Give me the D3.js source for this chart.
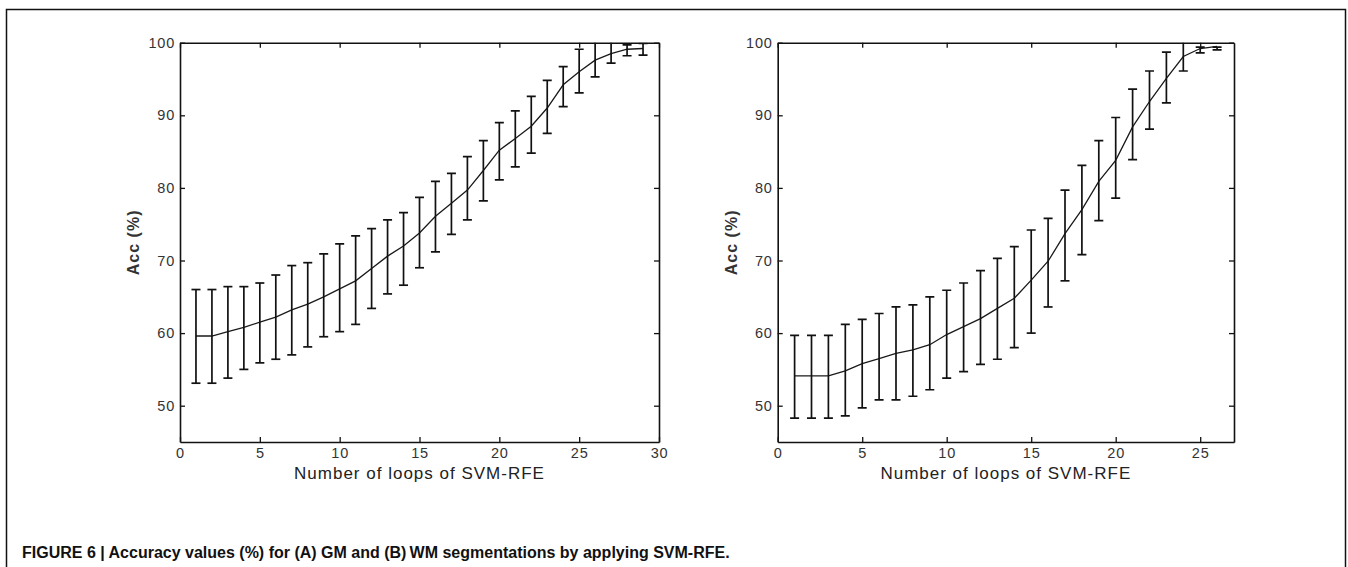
<!DOCTYPE html>
<html>
<head>
<meta charset="utf-8">
<script src="https://cdn.jsdelivr.net/npm/d3@7"></script>
<style>
  body { margin: 0; background: #fff; }
  svg { display: block; }
</style>
</head>
<body>
<div id="chart"></div>
<script>
// (A) GM panel
const loopsA = d3.range(1, 30);
const accA = [59.6, 59.6, 60.2, 60.8, 61.5, 62.2, 63.2, 64.0, 65.0, 66.1,
  67.2, 68.9, 70.6, 72.0, 73.8, 76.1, 77.9, 79.7, 82.4, 85.2,
  86.8, 88.5, 91.0, 94.2, 96.0, 97.6, 98.5, 99.1, 99.2];
const upperA = [66.0, 66.0, 66.4, 66.4, 66.9, 68.0, 69.3, 69.7, 70.9, 72.3,
  73.4, 74.4, 75.6, 76.6, 78.7, 80.9, 82.0, 84.3, 86.5, 89.0,
  90.6, 92.6, 94.8, 96.7, 99.1, 100.4, 100.4, 99.7, 99.9];
const lowerA = [53.1, 53.1, 53.8, 55.0, 55.9, 56.4, 57.0, 58.1, 59.5, 60.2,
  61.2, 63.4, 65.4, 66.6, 69.0, 71.2, 73.6, 75.6, 78.2, 81.1,
  82.9, 84.8, 87.5, 91.2, 93.1, 95.3, 97.2, 98.2, 98.3];

// (B) WM panel
const loopsB = d3.range(1, 27);
const accB = [54.1, 54.1, 54.1, 54.8, 55.8, 56.5, 57.2, 57.7, 58.4, 59.8,
  60.9, 62.0, 63.4, 64.8, 67.3, 69.9, 73.7, 77.0, 80.9, 83.8,
  88.4, 91.9, 95.1, 98.1, 99.2, 99.5];
const upperB = [59.7, 59.7, 59.7, 61.2, 61.9, 62.7, 63.6, 63.9, 65.0, 65.9,
  66.9, 68.6, 70.3, 71.9, 74.2, 75.8, 79.7, 83.1, 86.5, 89.7,
  93.6, 96.1, 98.7, 100.3, 99.4, 99.4];
const lowerB = [48.3, 48.3, 48.3, 48.6, 49.7, 50.8, 50.8, 51.3, 52.2, 53.8,
  54.7, 55.7, 56.4, 58.0, 60.0, 63.6, 67.2, 70.8, 75.5, 78.6,
  83.9, 88.1, 91.7, 96.1, 98.6, 99.0];

const yTicks = [50, 60, 70, 80, 90, 100];
const xTicksA = [0, 5, 10, 15, 20, 25, 30];
const xTicksB = [0, 5, 10, 15, 20, 25];

const xLabel = 'Number of loops of SVM-RFE';
const yLabel = 'Acc (%)';
const caption = 'FIGURE 6 | Accuracy values (%) for (A) GM and (B)\u2009WM segmentations by applying SVM-RFE.';

const width = 1348, height = 567;
const fontFam = '"Liberation Sans", Arial, sans-serif';

let svg = d3.select('#chart')
  .append('svg')
  .attr('width', width)
  .attr('height', height);

// figure frame
svg.append('rect')
  .attr('x', 6.5).attr('y', 9.5)
  .attr('width', 1339).attr('height', 600)
  .attr('fill', 'none')
  .attr('stroke', '#111')
  .attr('stroke-width', 1.5);

svg.append('text')
  .attr('x', 22)
  .attr('y', 558)
  .attr('font-family', fontFam)
  .attr('font-weight', 'bold')
  .attr('font-size', 16)
  .attr('fill', '#111')
  .text(caption);

function drawPanel(id, left, right, xMax, xTicks, loops, acc, upper, lower) {
  const top = 42.7, bottom = 442;
  const w = right - left, h = bottom - top;

  let x = d3.scaleLinear().domain([0, xMax]).range([0, w]);
  let y = d3.scaleLinear().domain([45, 100]).range([h, 0]);

  let g = svg.append('g')
    .attr('transform', 'translate(' + left + ',' + top + ')');

  g.append('clipPath').attr('id', 'clip' + id)
    .append('rect').attr('width', w).attr('height', h);

  let rows = loops.map((d, i) => ({ x: d, m: acc[i], hi: upper[i], lo: lower[i] }));

  let plot = g.append('g').attr('clip-path', 'url(#clip' + id + ')');

  // mean line
  plot.append('path')
    .datum(rows)
    .attr('fill', 'none')
    .attr('stroke', '#1a1a1a')
    .attr('stroke-width', 1.3)
    .attr('d', d3.line().x(d => x(d.x)).y(d => y(d.m)));

  // error bars
  let bars = plot.selectAll('g.err').data(rows).enter()
    .append('g').attr('class', 'err')
    .attr('stroke', '#111')
    .attr('stroke-width', 1.7);
  bars.append('line')
    .attr('x1', d => x(d.x)).attr('x2', d => x(d.x))
    .attr('y1', d => y(d.hi)).attr('y2', d => y(d.lo));
  bars.append('line')
    .attr('x1', d => x(d.x) - 4.5).attr('x2', d => x(d.x) + 4.5)
    .attr('y1', d => y(d.hi)).attr('y2', d => y(d.hi));
  bars.append('line')
    .attr('x1', d => x(d.x) - 4.5).attr('x2', d => x(d.x) + 4.5)
    .attr('y1', d => y(d.lo)).attr('y2', d => y(d.lo));

  // axes, ticks pointing inward on all four sides
  const styleAxis = sel => {
    sel.select('.domain').attr('stroke', '#111').attr('stroke-width', 1.6);
    sel.selectAll('.tick line').attr('stroke', '#111').attr('stroke-width', 1.3);
    sel.selectAll('.tick text')
      .attr('fill', '#333')
      .style('font-family', fontFam)
      .style('font-size', '14.5px')
      .style('letter-spacing', '0.8px');
  };

  g.append('g')
    .attr('transform', 'translate(0,' + h + ')')
    .call(d3.axisBottom(x).tickValues(xTicks).tickSizeInner(-5).tickSizeOuter(0).tickPadding(6))
    .call(styleAxis);
  g.append('g')
    .call(d3.axisTop(x).tickValues(xTicks).tickSizeInner(-5).tickSizeOuter(0).tickFormat(''))
    .call(styleAxis);
  g.append('g')
    .call(d3.axisLeft(y).tickValues(yTicks).tickSizeInner(-5).tickSizeOuter(0).tickPadding(5))
    .call(styleAxis);
  g.append('g')
    .attr('transform', 'translate(' + w + ',0)')
    .call(d3.axisRight(y).tickValues(yTicks).tickSizeInner(-5).tickSizeOuter(0).tickFormat(''))
    .call(styleAxis);

  g.append('text')
    .attr('x', w / 2)
    .attr('y', h + 37)
    .attr('text-anchor', 'middle')
    .attr('font-family', fontFam)
    .attr('font-size', 17)
    .attr('letter-spacing', '1px')
    .attr('fill', '#222')
    .text(xLabel);

  g.append('text')
    .attr('transform', 'translate(-41,' + (h / 2) + ') rotate(-90)')
    .attr('text-anchor', 'middle')
    .attr('font-family', fontFam)
    .attr('font-weight', 'bold')
    .attr('font-size', 16)
    .attr('letter-spacing', '1px')
    .attr('fill', '#333')
    .text(yLabel);
}

drawPanel('A', 180, 659, 30, xTicksA, loopsA, accA, upperA, lowerA);
drawPanel('B', 777.7, 1234, 27, xTicksB, loopsB, accB, upperB, lowerB);
</script>
</body>
</html>
